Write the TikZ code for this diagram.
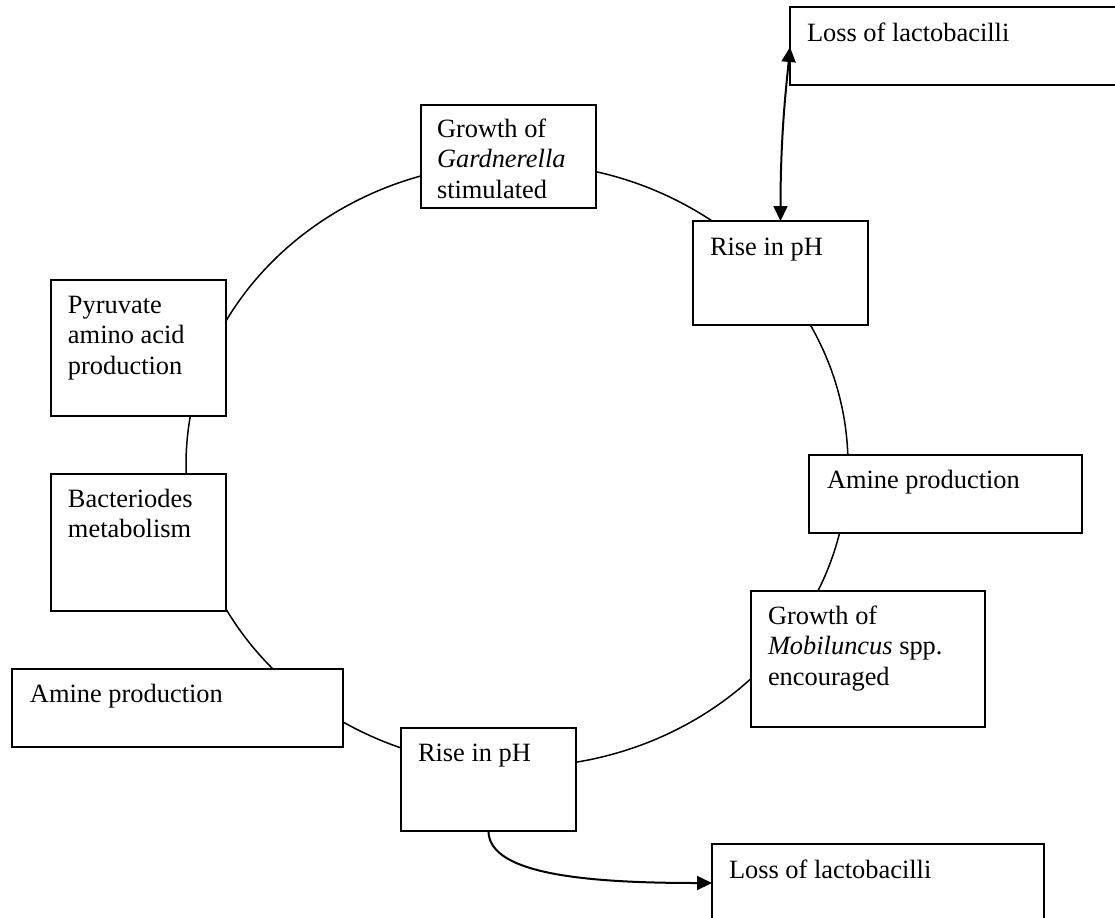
\documentclass[tikz,border=0pt]{standalone}
\usepackage{fontspec}
\setmainfont{Liberation Serif}
\usetikzlibrary{arrows.meta,calc,shapes.geometric}
\begin{document}
\begin{tikzpicture}[x=0.5pt,y=-0.5pt,
  box/.style={draw,line width=1pt,fill=white,rectangle,inner sep=0pt,outer sep=0pt,anchor=north west},
  lbl/.style={anchor=base west,inner sep=0pt,outer sep=0pt,align=left,font=\fontsize{13.2pt}{15.25pt}\selectfont},
  ring/.style={draw,line width=0.75pt,ellipse,inner sep=0pt,outer sep=0pt,minimum width=331pt,minimum height=302pt},
  tip/.tip={Triangle[length=7.5pt,width=7pt]},
  both/.style={line width=1pt,tip-tip},
  onearrow/.style={line width=1pt,-tip}]
\useasboundingbox (0,0) rectangle (1115,917);
\clip (0,0) rectangle (1115,917);
\node[ring] (ring) at (517,465) {};
% boxes
\node[box,minimum width=170pt,minimum height=39pt] (lossT) at (790,7) {};
\node[box,minimum width=87.5pt,minimum height=51.5pt] (gard) at (421,105) {};
\node[box,minimum width=87.5pt,minimum height=52pt] (riseT) at (693,221) {};
\node[box,minimum width=87.5pt,minimum height=68pt] (pyr) at (51,280) {};
\node[box,minimum width=87.5pt,minimum height=68.5pt] (bact) at (51,474) {};
\node[box,minimum width=136.5pt,minimum height=39pt] (amineR) at (809,455) {};
\node[box,minimum width=117pt,minimum height=68pt] (mob) at (751,591) {};
\node[box,minimum width=165.5pt,minimum height=39pt] (amineL) at (12,669) {};
\node[box,minimum width=87.5pt,minimum height=51.5pt] (riseB) at (401,728) {};
\node[box,minimum width=166pt,minimum height=50pt] (lossB) at (712,844) {};
% labels (anchor = baseline of the last line)
\node[lbl] (lossT-t) at ($(lossT.north west)+(17,34)$) {Loss of lactobacilli};
\node[lbl] (gard-t) at ($(gard.north west)+(16,93)$) {Growth of\\\textit{Gardnerella}\\stimulated};
\node[lbl] (riseT-t) at ($(riseT.north west)+(17,34)$) {Rise in pH};
\node[lbl] (pyr-t) at ($(pyr.north west)+(17,94)$) {Pyruvate\\amino acid\\production};
\node[lbl] (bact-t) at ($(bact.north west)+(17,63.5)$) {Bacteriodes\\metabolism};
\node[lbl] (amineR-t) at ($(amineR.north west)+(18,33)$) {Amine production};
\node[lbl] (mob-t) at ($(mob.north west)+(17,94)$) {Growth of\\\textit{Mobiluncus} spp.\\encouraged};
\node[lbl] (amineL-t) at ($(amineL.north west)+(18,33)$) {Amine production};
\node[lbl] (riseB-t) at ($(riseB.north west)+(17,33)$) {Rise in pH};
\node[lbl] (lossB-t) at ($(lossB.north west)+(17,34)$) {Loss of lactobacilli};
% arrows
\coordinate (lossT-in) at ($(lossT.north west)+(0,40)$);
\coordinate (lossB-in) at ($(lossB.north west)+(0,39)$);
\draw[both] (riseT.north) .. controls +(0,-90) and +(-3,33) .. (lossT-in);
\draw[onearrow] (riseB.south) .. controls +(0,44) and +(-122,0) .. (lossB-in);
\end{tikzpicture}
\end{document}
